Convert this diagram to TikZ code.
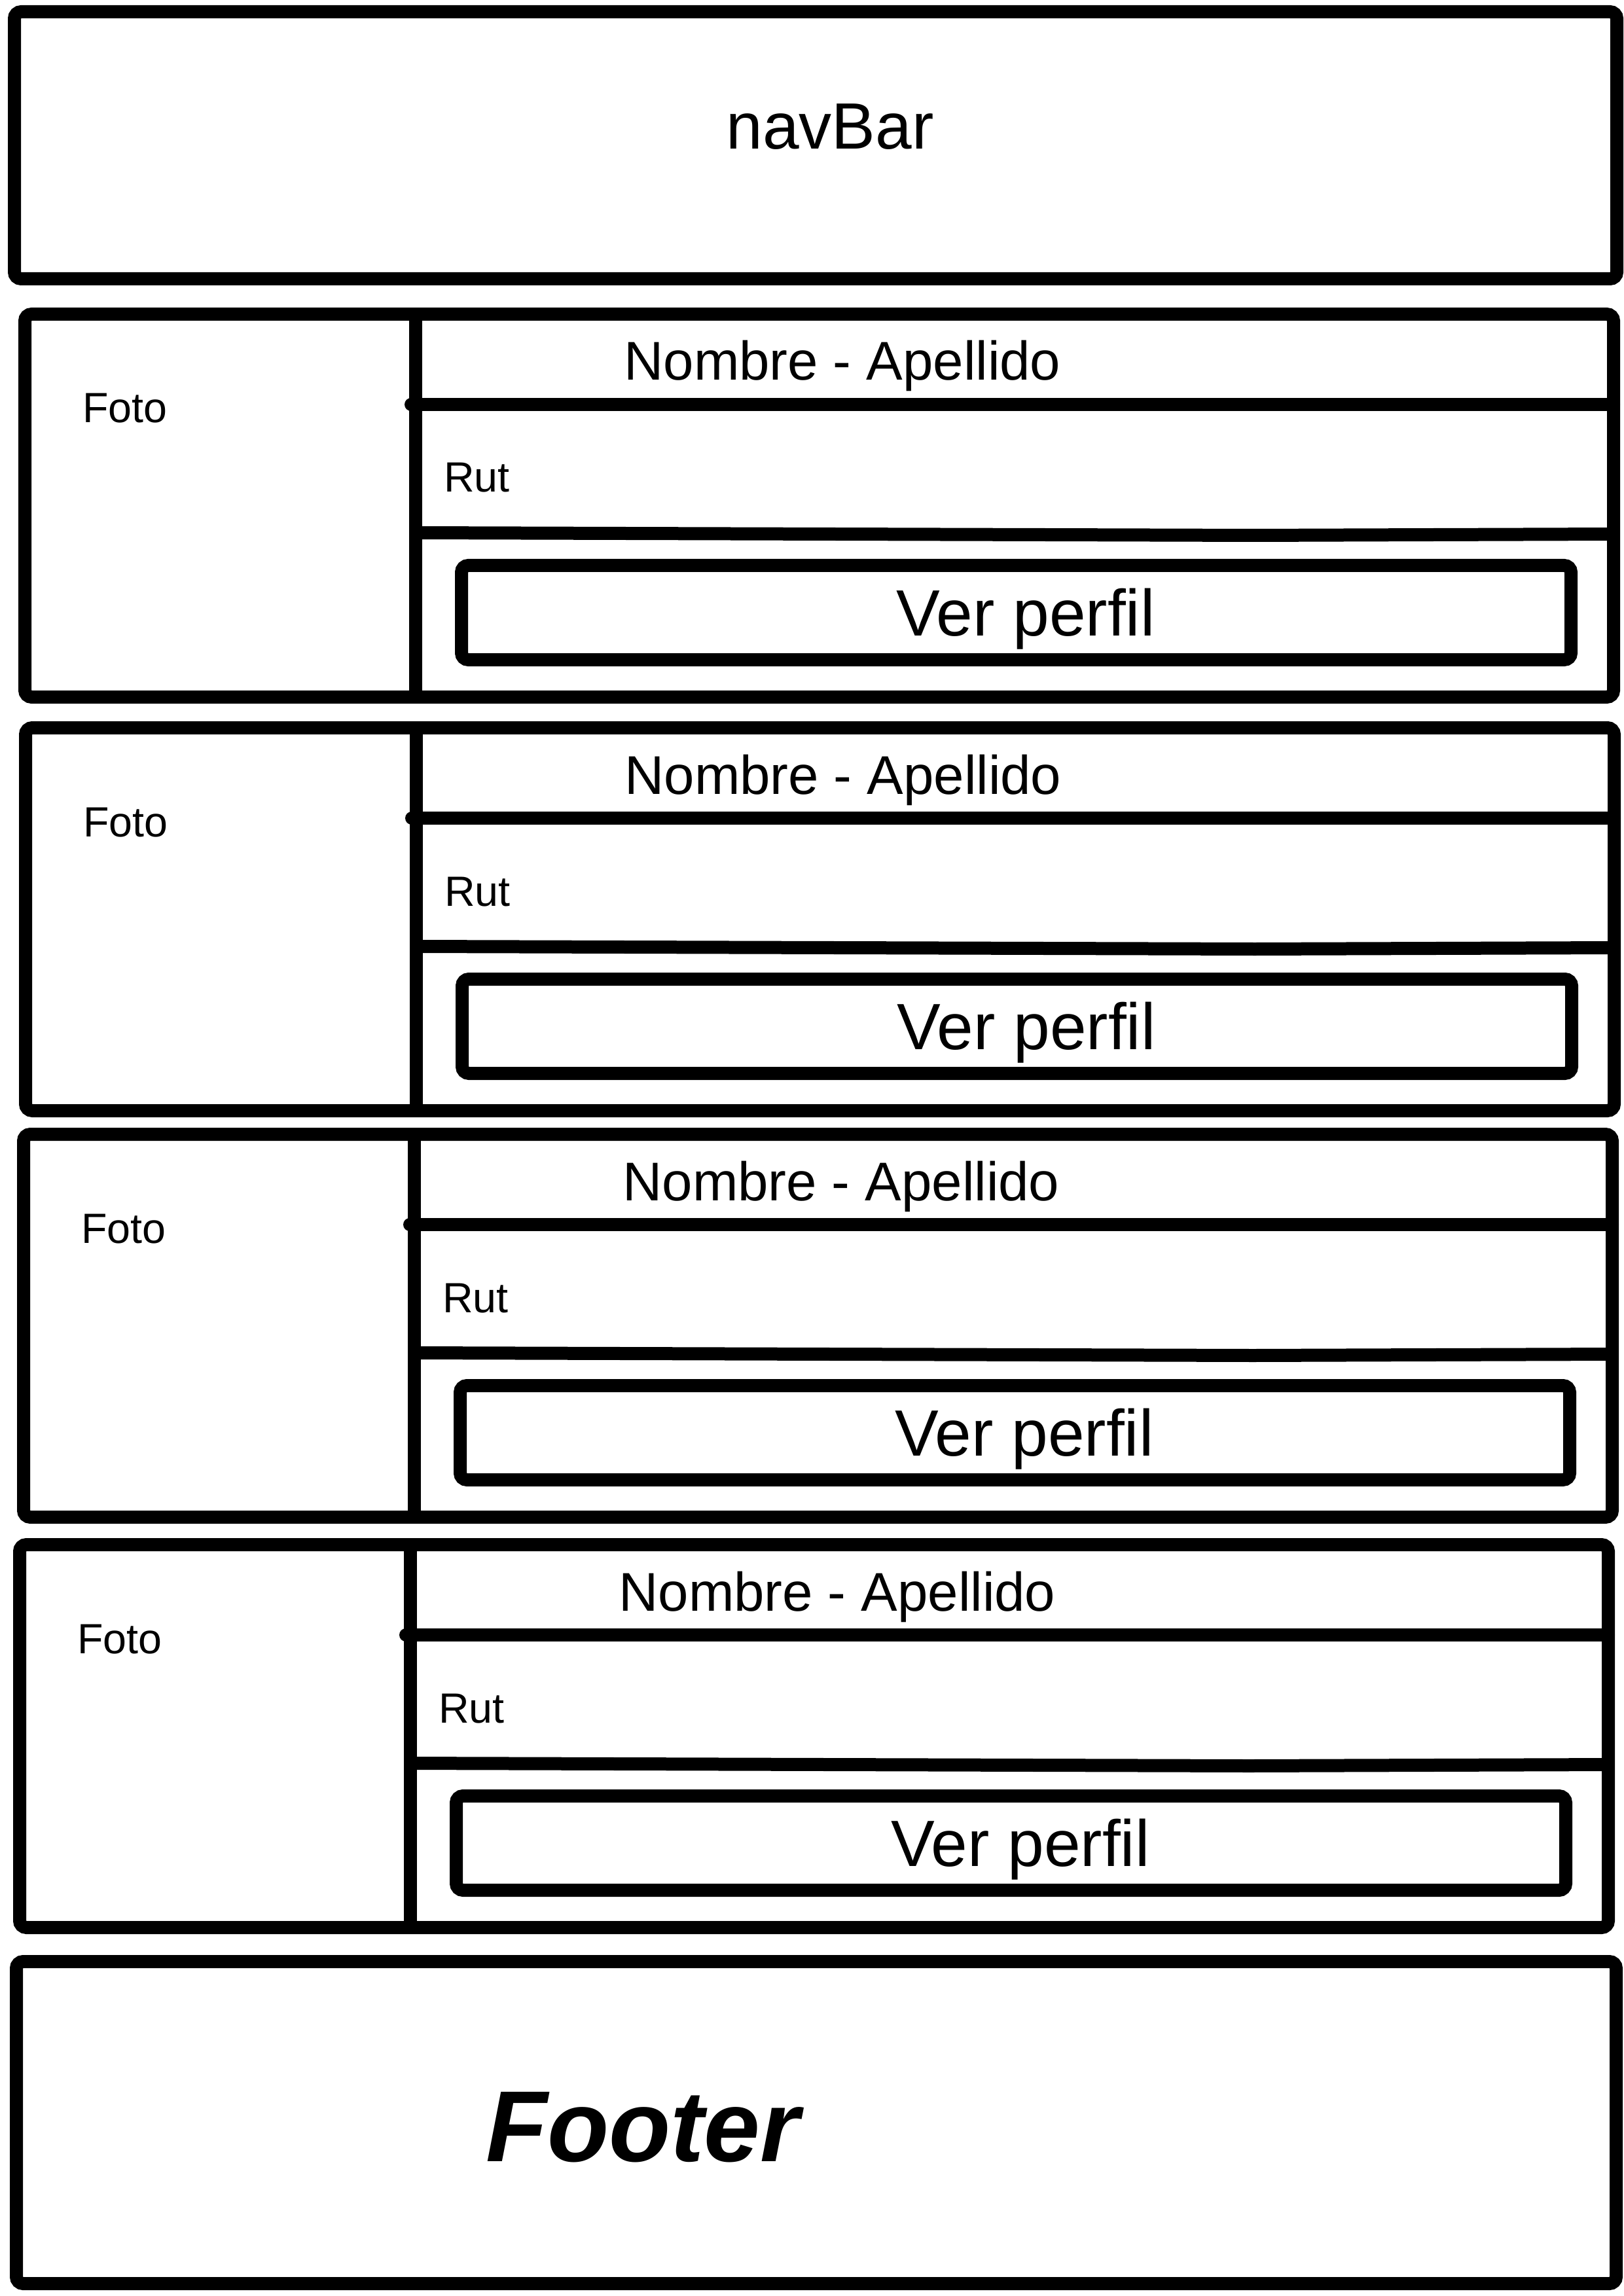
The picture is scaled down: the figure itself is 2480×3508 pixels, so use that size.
\documentclass[tikz,border=0pt]{standalone}
\usepackage{fontspec}
\setmainfont{Liberation Sans}
\usepackage{tikz}
\usetikzlibrary{positioning}

\begin{document}
\begin{tikzpicture}[
    x=0.24pt, y=-0.24pt,
    frame/.style={draw,line width=4.8pt,rounded corners=2.5pt},
    bar/.style={draw,line width=4.8pt},
    txt/.style={inner sep=0pt,outer sep=0pt},
    big/.style={txt,font=\fontsize{24}{28}\selectfont},
    mid/.style={txt,font=\fontsize{20}{24}\selectfont},
    small/.style={txt,font=\fontsize{15.5}{18}\selectfont}
]
\fill[white] (0,0) rectangle (2480,3508);
\draw[frame] (22,18) rectangle (2470,426);
\node[big,anchor=base] (nav) at (1268,228) {navBar};
\foreach \i/\dx/\dy in {1/0/0,2/1/632,3/-2/1253,4/-8/1880}{
  \begin{scope}[shift={(\dx,\dy)}]
  \draw[frame] (38,480) rectangle (2465,1065);
  \draw[bar] (635,480) -- (635,1065);
  \draw[bar,line cap=round] (628,618) -- (2465,618);
  \draw[bar] (635,814) -- (1916,818) -- (2465,816);
  \draw[frame] (705,864) rectangle (2400,1008);
  \node[small,anchor=base west] (foto\i) at (126,646) {Foto};
  \node[small,anchor=base west] (rut\i) at (678,752) {Rut};
  \node[mid,anchor=base] (nom\i) at (1287,581) {Nombre - Apellido};
  \node[big,anchor=base] (ver\i) at (1567,971) {Ver perfil};
  \end{scope}
}
\draw[frame] (25,2997) rectangle (2469,3489);
\node[txt,anchor=base west,font=\fontsize{37}{42}\selectfont\bfseries\itshape] (foot) at (742,3302) {Footer};
\end{tikzpicture}
\end{document}
